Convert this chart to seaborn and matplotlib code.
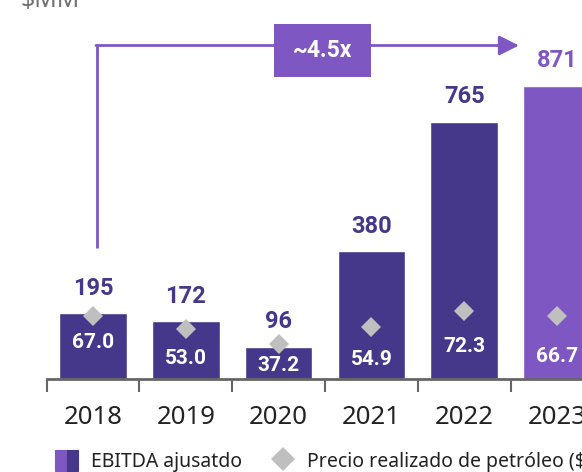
import matplotlib
matplotlib.use('Agg')
import matplotlib.pyplot as plt
import seaborn as sns
import pandas as pd
from matplotlib.patches import Patch, Rectangle
from matplotlib.lines import Line2D
from matplotlib.legend_handler import HandlerTuple

# ---- data ----
years = ['2018', '2019', '2020', '2021', '2022', '2023']
ebitda = [195, 172, 96, 380, 765, 871]
price = [67.0, 53.0, 37.2, 54.9, 72.3, 66.7]
period = ['hist', 'hist', 'hist', 'hist', 'hist', 'last']
growth_label = '~4.5x'
unit_label = r'\$MM'
legend_labels = ['EBITDA ajusatdo', 'Precio realizado de petróleo ($/bbl)']

# ---- style ----
DARK = '#45388A'
LIGHT = '#7E57C2'
GRAY = '#BFBFBF'
inner_offsets_px = [26, 29, 21, 32, 35, 40]
BOLD = ['Roboto', 'Open Sans', 'DejaVu Sans']

sns.set_theme(style='white')
plt.rcParams['font.family'] = ['Noto Sans', 'DejaVu Sans']

df = pd.DataFrame(dict(year=years, ebitda=ebitda, price=price, period=period))

W, H = 582, 472
fig = plt.figure(figsize=(W / 100, H / 100), dpi=100)
ax = fig.add_axes([46.6 / W, (H - 379) / H, 6 * 92.8 / W, 379 / H])

sns.barplot(data=df, x='year', y='ebitda', hue='period',
            palette={'hist': DARK, 'last': LIGHT}, dodge=False, width=0.73,
            saturation=1, legend=False, ax=ax)

ax2 = ax.twinx()
sns.pointplot(data=df, x='year', y='price', linestyle='none', marker='D',
              color=GRAY, markersize=10.5, markeredgewidth=0, errorbar=None, ax=ax2)

ax.set_xlim(-0.5, 5.5)
ax.set_ylim(0, 379 / 0.3364)
ax2.set_ylim(0, 379 / 0.94)

for a in (ax, ax2):
    for s in ['top', 'right', 'left']:
        a.spines[s].set_visible(False)
    a.set_ylabel('')
    a.set_xlabel('')
    a.set_yticks([])
ax2.spines['bottom'].set_visible(False)
ax.spines['bottom'].set_color('#666666')
ax.spines['bottom'].set_linewidth(2)

ax.set_xticks(range(len(years)))
ax.set_xticklabels(years)
ax.set_xticks([i - 0.5 for i in range(len(years) + 1)], minor=True)
ax.tick_params(axis='x', which='major', length=0, pad=19, labelsize=18.5, labelcolor='#222222')
ax.tick_params(axis='x', which='minor', length=9, width=1.5, color='#666666', direction='out', bottom=True)

# value labels above bars
for i, v in enumerate(ebitda):
    ax.annotate(f'{v}', (i, v), xytext=(0, 25), textcoords='offset pixels',
                ha='center', va='center', fontsize=17, fontweight='bold', family=BOLD,
                color=LIGHT if period[i] == 'last' else DARK)

# price labels inside bars
for i, p in enumerate(price):
    ax2.annotate(f'{p:.1f}', (i, p), xytext=(0, -inner_offsets_px[i]), textcoords='offset pixels',
                 ha='center', va='center', fontsize=15, fontweight='bold', family=BOLD,
                 color='white')

# growth arrow
def fx(x):
    return x / W

def fy(y):
    return 1 - y / H

fig.add_artist(Line2D([fx(97), fx(97)], [fy(248), fy(45.5)], color=LIGHT, lw=2,
                      solid_capstyle='butt', transform=fig.transFigure))
ax.annotate('', xy=(fx(519), fy(45.5)), xytext=(fx(96), fy(45.5)),
            xycoords='figure fraction', textcoords='figure fraction', annotation_clip=False,
            arrowprops=dict(arrowstyle='-|>,head_length=1.0,head_width=0.5', color=LIGHT,
                            lw=2, shrinkA=0, shrinkB=0))
fig.add_artist(Rectangle((fx(274), fy(77)), 97 / W, 53 / H, transform=fig.transFigure,
                         facecolor=LIGHT, edgecolor='none'))
fig.text(fx(322.5), fy(50.5), growth_label, ha='center', va='center', color='white',
         fontsize=16.5, fontweight='bold', family=BOLD)

fig.text(fx(20), fy(7), unit_label, color='#707070', fontsize=18, va='baseline', ha='left')

# legend
handles = [(Patch(facecolor=LIGHT, edgecolor=LIGHT, lw=0.8),
            Patch(facecolor=DARK, edgecolor=DARK, lw=0.8)),
           Line2D([], [], marker='D', color=GRAY, ls='none', markersize=12, markeredgewidth=0)]
fig.legend(handles=handles, labels=legend_labels,
           handler_map={tuple: HandlerTuple(ndivide=None, pad=0)},
           ncol=2, frameon=False, loc='center left', bbox_to_anchor=(fx(55), fy(461)),
           fontsize=14, handlelength=1.2, handleheight=1.3, handletextpad=0.65,
           columnspacing=1.5, borderpad=0, borderaxespad=0, labelcolor='#222222')

fig.savefig('out.png', dpi=100)
